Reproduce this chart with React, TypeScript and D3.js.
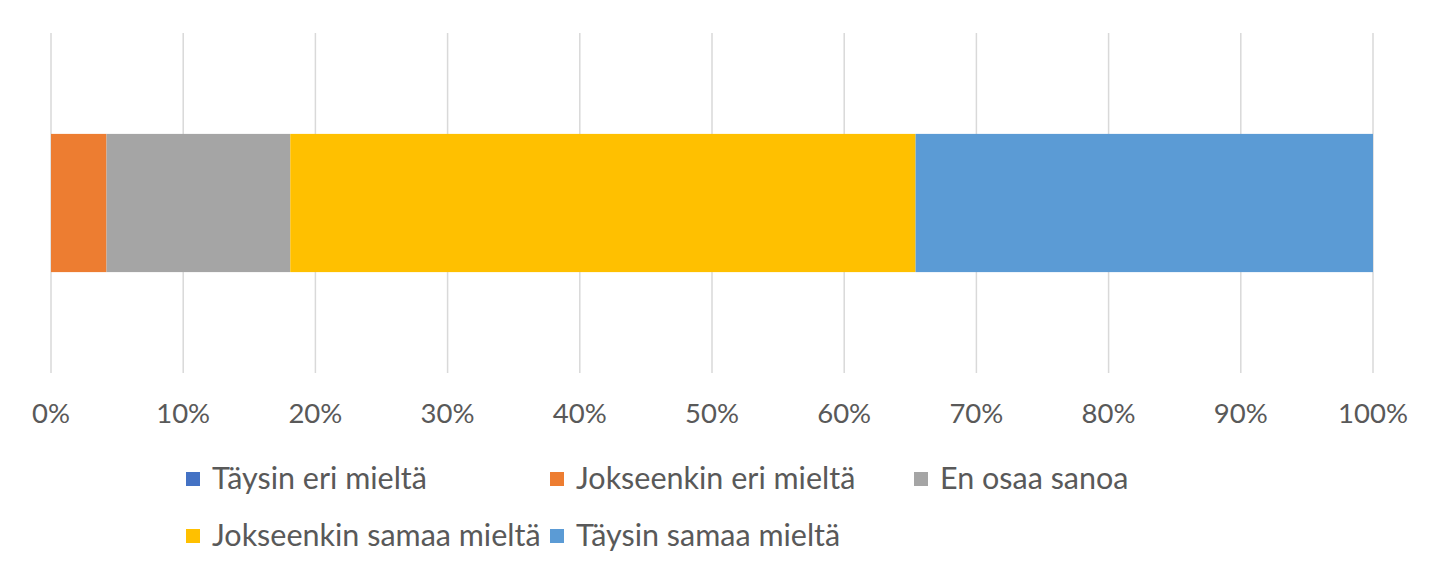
import React, { useRef, useEffect } from 'react';
import * as d3 from 'd3';

// categories (stack order, left to right)
const seriesNames = [
  'Täysin eri mieltä',
  'Jokseenkin eri mieltä',
  'En osaa sanoa',
  'Jokseenkin samaa mieltä',
  'Täysin samaa mieltä',
];
const seriesValues = [0, 4.2, 13.9, 47.3, 34.6];
const seriesColors = ['#4472c4', '#ed7d31', '#a5a5a5', '#ffc000', '#5b9bd5'];
const tickValues = [0, 10, 20, 30, 40, 50, 60, 70, 80, 90, 100];

const W = 1440;
const H = 578;

const App: React.FC = () => {
  const svgRef = useRef<SVGSVGElement>(null);

  useEffect(() => {
    if (!svgRef.current) return;
    const svg = d3.select(svgRef.current);
    svg.selectAll('*').remove();

    const font = 'Lato, "Open Sans", sans-serif';
    const x = d3.scaleLinear().domain([0, 100]).range([51, 1373]);
    const y = d3.scaleBand().domain(['q']).range([33, 373]).paddingInner(0).paddingOuter(0.73);

    svg.append('rect').attr('width', W).attr('height', H).attr('fill', '#fff');

    // gridlines
    svg.append('g')
      .selectAll('line')
      .data(tickValues)
      .join('line')
      .attr('x1', d => x(d))
      .attr('x2', d => x(d))
      .attr('y1', 33)
      .attr('y2', 373)
      .attr('stroke', '#d9d9d9')
      .attr('stroke-width', 1.5);

    // stacked segments
    const starts = d3.cumsum([0, ...seriesValues]);
    const segs = seriesValues.map((v, i) => ({ v, x0: starts[i], x1: starts[i] + v, c: seriesColors[i] }));
    svg.append('g')
      .selectAll('rect')
      .data(segs.filter(s => s.v > 0))
      .join('rect')
      .attr('x', d => x(d.x0))
      .attr('width', d => x(d.x1) - x(d.x0))
      .attr('y', y('q')!)
      .attr('height', y.bandwidth())
      .attr('fill', d => d.c);

    // tick labels
    svg.append('g')
      .selectAll('text')
      .data(tickValues)
      .join('text')
      .attr('x', d => x(d))
      .attr('y', 423)
      .attr('text-anchor', 'middle')
      .style('font-family', font)
      .style('font-size', '27.5px')
      .style('fill', '#595959')
      .text(d => `${d}%`);

    // legend
    const legend = svg.append('g');
    seriesNames.forEach((name, i) => {
      const col = i < 3 ? i : i - 3;
      const row = i < 3 ? 0 : 1;
      const lx = 186 + col * 364;
      const ly = 479 + row * 57;
      legend.append('rect')
        .attr('x', lx)
        .attr('y', ly - 7)
        .attr('width', 14)
        .attr('height', 14)
        .attr('fill', seriesColors[i]);
      legend.append('text')
        .attr('x', lx + 26)
        .attr('y', ly + 10)
        .style('font-family', font)
        .style('font-size', '30.5px')
        .style('fill', '#595959')
        .text(name);
    });
  }, []);

  return <svg ref={svgRef} width={W} height={H} style={{ display: 'block', position: 'absolute', left: 0, top: 0 }} />;
};

export default App;
